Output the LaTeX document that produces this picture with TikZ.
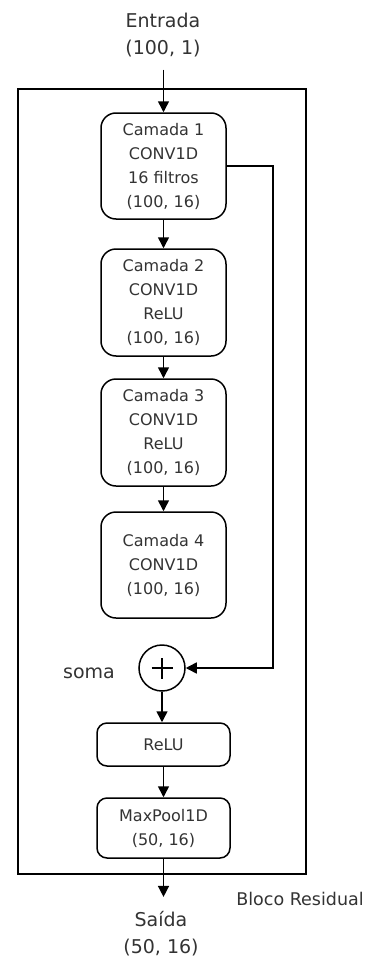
\documentclass[tikz,border=0pt]{standalone}
\usepackage{fontspec}
\setmainfont{DejaVu Sans}
\usetikzlibrary{arrows.meta}
\begin{document}
\begin{tikzpicture}[x=1pt,y=-1pt,
  line width=1.5pt,
  arr/.style={-{Triangle[width=11pt,length=11pt]}},
  layer/.style={draw, rectangle, rounded corners=15pt, minimum width=125pt, minimum height=106pt, align=center, inner sep=0pt, font=\fontsize{16}{24}\selectfont, text=black!80},
  smallbox/.style={draw, rectangle, rounded corners=10pt, minimum width=133pt, align=center, inner sep=0pt, font=\fontsize{16}{24}\selectfont, text=black!80},
  lbl/.style={align=center, inner sep=0pt, font=\fontsize{19}{27}\selectfont, text=black!80}
  ]
\useasboundingbox (0,0) rectangle (379,958);
\node[draw, rectangle, minimum width=288pt, minimum height=785pt, inner sep=0pt] (outer) at (162,481.5) {};
\node[lbl] (ent) at (163,35) {Entrada\\(100, 1)};
\node[layer] (c1) at (163.5,166) {Camada 1\\CONV1D\\16 filtros\\(100, 16)};
\node[layer, minimum height=107pt] (c2) at (163.5,302.5) {Camada 2\\CONV1D\\ReLU\\(100, 16)};
\node[layer, minimum height=107pt] (c3) at (163.5,432.5) {Camada 3\\CONV1D\\ReLU\\(100, 16)};
\node[layer] (c4) at (163.5,565) {Camada 4\\CONV1D\\(100, 16)};
\node[draw, circle, minimum size=46pt, inner sep=0pt] (sum) at (162,668) {};
\draw[line width=2.4pt] ([xshift=-10.5pt]sum.center) -- ([xshift=10.5pt]sum.center);
\draw[line width=2.4pt] ([yshift=-10.5pt]sum.center) -- ([yshift=10.5pt]sum.center);
\node[lbl] (soma) at (89,673) {soma};
\node[smallbox, minimum height=43pt] (relu) at (163.5,744.5) {ReLU};
\node[smallbox, minimum height=60pt] (mp) at (163.5,828) {MaxPool1D\\(50, 16)};
\node[lbl] (sai) at (161,934) {Saída\\(50, 16)};
\node[lbl, font=\fontsize{17.5}{24}\selectfont] (bloco) at (300,899) {Bloco Residual};
\draw[arr] ([yshift=-12pt]ent.south -| c1.north) -- (c1.north);
\draw[arr] (c1) -- (c2);
\draw[arr] (c2) -- (c3);
\draw[arr] (c3) -- (c4);
\draw[arr] (c1.east) -- ++(46,0) |- (sum.east);
\draw[arr] (sum) -- (sum |- relu.north);
\draw[arr] (relu) -- (mp);
\draw[arr] (mp.south) -- ([yshift=14pt]sai.north -| mp.south);
\end{tikzpicture}
\end{document}
